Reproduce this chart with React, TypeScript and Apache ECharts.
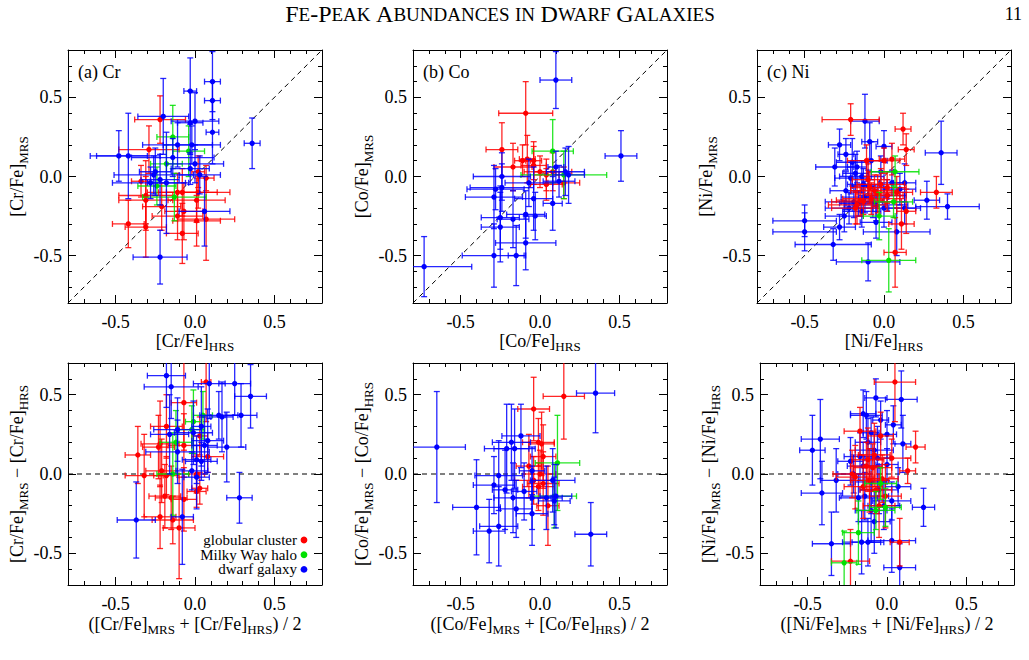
import React, { useEffect, useRef } from "react";
import * as echarts from "echarts";

const FONT = "Liberation Serif, 'Times New Roman', serif";
const RED = "#ff0000";
const GREEN = "#00e000";
const BLUE = "#0000ff";

// Each point: [x, y, xError, yError]
// ---- (a) Cr, top: [Cr/Fe]HRS vs [Cr/Fe]MRS
const crTopRed = [
  [-0.22, 0.36, 0.16, 0.15], [-0.29, 0.17, 0.19, 0.15], [-0.42, -0.30, 0.10, 0.15],
  [-0.31, -0.32, 0.13, 0.19], [-0.31, -0.12, 0.17, 0.22], [-0.31, -0.15, 0.17, 0.15],
  [-0.21, -0.19, 0.12, 0.15], [-0.11, -0.25, 0.16, 0.15], [-0.08, -0.36, 0.10, 0.19],
  [-0.07, -0.22, 0.12, 0.18], [-0.08, -0.10, 0.22, 0.15], [0.01, -0.15, 0.18, 0.14],
  [0.01, -0.28, 0.15, 0.16], [0.07, -0.27, 0.18, 0.26], [0.02, -0.10, 0.20, 0.10],
  [-0.34, -0.03, 0.06, 0.10], [0.07, -0.01, 0.05, 0.08], [0.02, 0.03, 0.04, 0.10],
  [-0.11, -0.10, 0.12, 0.12],
];
const crTopGreen = [
  [-0.14, 0.25, 0.10, 0.20], [-0.13, -0.13, 0.20, 0.15], [-0.18, 0.08, 0.10, 0.12],
  [-0.24, -0.06, 0.12, 0.12], [-0.04, 0.16, 0.10, 0.16],
];
const crTopBlue = [
  [0.11, 0.60, 0.05, 0.19], [0.11, 0.48, 0.05, 0.12], [0.11, 0.28, 0.04, 0.20],
  [-0.03, 0.54, 0.04, 0.21], [0.36, 0.21, 0.05, 0.16], [-0.20, 0.38, 0.16, 0.24],
  [0.00, 0.35, 0.15, 0.18], [-0.03, 0.34, 0.08, 0.20], [-0.48, 0.13, 0.18, 0.16],
  [-0.42, 0.13, 0.20, 0.27], [-0.11, 0.20, 0.22, 0.14], [-0.02, 0.20, 0.18, 0.12],
  [-0.14, 0.12, 0.26, 0.12], [0.00, 0.08, 0.18, 0.12], [-0.03, 0.05, 0.12, 0.10],
  [-0.25, 0.03, 0.10, 0.15], [-0.26, 0.01, 0.25, 0.12], [-0.22, -0.02, 0.12, 0.16],
  [-0.28, -0.04, 0.24, 0.10], [-0.18, -0.04, 0.12, 0.32], [0.03, 0.01, 0.13, 0.12],
  [0.06, -0.22, 0.16, 0.22], [-0.22, -0.51, 0.17, 0.17],
];

// ---- (b) Co, top
const coTopRed = [
  [-0.09, 0.40, 0.17, 0.20], [-0.24, 0.17, 0.10, 0.17], [-0.17, 0.06, 0.12, 0.15],
  [-0.11, 0.10, 0.05, 0.10], [-0.08, 0.11, 0.05, 0.15], [-0.04, 0.10, 0.05, 0.12],
  [-0.04, 0.07, 0.08, 0.12], [0.04, 0.01, 0.08, 0.10], [0.04, -0.05, 0.10, 0.10],
  [0.15, -0.04, 0.10, 0.10], [0.08, 0.03, 0.12, 0.12], [0.00, 0.03, 0.10, 0.10],
];
const coTopGreen = [
  [0.08, 0.16, 0.13, 0.20], [0.15, 0.01, 0.27, 0.15],
];
const coTopBlue = [
  [0.10, 0.61, 0.10, 0.18], [0.51, 0.13, 0.10, 0.16], [-0.73, -0.57, 0.30, 0.19],
  [-0.24, 0.00, 0.18, 0.15], [-0.28, -0.08, 0.18, 0.13], [-0.29, -0.13, 0.18, 0.20],
  [-0.24, -0.07, 0.20, 0.15], [-0.25, -0.26, 0.12, 0.20], [-0.25, -0.32, 0.12, 0.22],
  [-0.17, -0.27, 0.10, 0.18], [-0.09, -0.24, 0.12, 0.15], [-0.03, -0.25, 0.07, 0.15],
  [-0.04, -0.14, 0.12, 0.20], [-0.07, -0.04, 0.15, 0.15], [-0.09, -0.42, 0.19, 0.17],
  [-0.29, -0.50, 0.20, 0.20], [-0.15, -0.50, 0.05, 0.19], [0.08, -0.17, 0.06, 0.17],
  [0.12, -0.03, 0.10, 0.10], [0.10, 0.06, 0.05, 0.10], [0.16, 0.03, 0.12, 0.15],
  [0.18, 0.01, 0.10, 0.18],
];

// ---- (c) Ni, top
const niTopRed = [
  [-0.21, 0.36, 0.18, 0.10], [0.12, 0.30, 0.05, 0.10], [0.14, 0.17, 0.05, 0.10],
  [0.05, 0.11, 0.08, 0.10], [0.33, -0.10, 0.10, 0.10], [0.07, -0.48, 0.07, 0.22],
  [0.11, -0.30, 0.08, 0.16], [0.14, -0.22, 0.06, 0.14], [-0.17, -0.18, 0.18, 0.12],
  [-0.15, -0.15, 0.15, 0.10], [-0.09, -0.07, 0.12, 0.10], [-0.04, -0.11, 0.14, 0.12],
  [-0.02, -0.05, 0.15, 0.10], [-0.08, -0.14, 0.18, 0.10], [0.02, -0.12, 0.10, 0.10],
  [-0.11, 0.10, 0.12, 0.10], [0.00, 0.10, 0.10, 0.08], [-0.13, -0.16, 0.20, 0.08],
  [-0.06, -0.09, 0.15, 0.10], [0.02, -0.07, 0.12, 0.10], [-0.18, -0.20, 0.15, 0.10],
  [0.08, -0.10, 0.10, 0.10], [-0.10, -0.02, 0.10, 0.10],
];
const niTopGreen = [
  [0.03, -0.53, 0.17, 0.20], [-0.03, -0.25, 0.10, 0.15], [0.07, 0.03, 0.15, 0.10],
  [0.06, -0.16, 0.12, 0.10],
];
const niTopBlue = [
  [-0.50, -0.28, 0.20, 0.10], [-0.50, -0.35, 0.20, 0.12], [-0.32, -0.43, 0.24, 0.10],
  [-0.10, -0.54, 0.20, 0.12], [0.36, 0.15, 0.10, 0.20], [0.40, -0.19, 0.20, 0.08],
  [0.27, -0.15, 0.08, 0.12], [-0.28, 0.20, 0.07, 0.10], [-0.12, 0.35, 0.09, 0.17],
  [-0.09, 0.22, 0.05, 0.12], [-0.31, 0.06, 0.12, 0.12], [-0.24, 0.14, 0.05, 0.10],
  [0.00, 0.19, 0.05, 0.10], [-0.21, -0.01, 0.10, 0.10], [-0.14, 0.00, 0.14, 0.10],
  [-0.24, -0.09, 0.10, 0.12], [-0.19, -0.16, 0.18, 0.10], [-0.28, -0.32, 0.10, 0.08],
  [-0.25, -0.25, 0.12, 0.10], [-0.14, -0.22, 0.12, 0.10], [-0.05, -0.29, 0.10, 0.10],
  [0.08, -0.35, 0.21, 0.15], [0.13, -0.04, 0.07, 0.12], [0.13, -0.20, 0.10, 0.10],
  [0.00, -0.20, 0.20, 0.12], [-0.07, -0.16, 0.20, 0.10], [-0.17, 0.06, 0.06, 0.10],
  [-0.02, 0.03, 0.08, 0.10], [0.05, -0.04, 0.08, 0.08], [-0.10, -0.06, 0.10, 0.10],
  [-0.16, -0.17, 0.12, 0.08], [-0.12, -0.13, 0.15, 0.10], [-0.05, -0.18, 0.20, 0.10],
  [-0.18, 0.02, 0.08, 0.12], [-0.08, 0.10, 0.10, 0.12], [-0.20, 0.09, 0.10, 0.15],
  [-0.13, -0.05, 0.10, 0.10], [0.02, -0.12, 0.12, 0.10], [-0.22, -0.20, 0.15, 0.10],
  [0.10, -0.08, 0.10, 0.10],
];

// ---- (a) Cr, bottom: mean vs difference
const crBotRed = [
  [-0.07, 0.45, 0.08, 0.30], [0.07, 0.58, 0.03, 0.25], [-0.18, 0.30, 0.10, 0.20],
  [-0.23, 0.17, 0.10, 0.20], [-0.36, 0.12, 0.08, 0.18], [-0.32, -0.01, 0.12, 0.26],
  [-0.21, 0.02, 0.10, 0.20], [-0.22, 0.19, 0.12, 0.27], [-0.19, -0.14, 0.10, 0.20],
  [-0.15, -0.15, 0.10, 0.20], [-0.14, -0.29, 0.13, 0.15], [-0.10, -0.34, 0.10, 0.32],
  [-0.22, -0.27, 0.10, 0.20], [-0.07, -0.16, 0.08, 0.20], [0.01, -0.11, 0.06, 0.10],
  [0.03, -0.09, 0.05, 0.10], [0.01, 0.00, 0.05, 0.12], [0.08, 0.11, 0.10, 0.10],
  [0.03, 0.24, 0.05, 0.12], [-0.18, -0.01, 0.08, 0.12], [-0.07, 0.18, 0.10, 0.20],
];
const crBotGreen = [
  [-0.01, 0.33, 0.05, 0.20], [-0.14, 0.00, 0.10, 0.26], [-0.12, 0.20, 0.10, 0.20],
  [0.05, 0.37, 0.06, 0.15], [-0.02, 0.28, 0.08, 0.15],
];
const crBotBlue = [
  [-0.18, 0.62, 0.12, 0.20], [-0.15, 0.55, 0.17, 0.20], [0.09, 0.57, 0.10, 0.22],
  [0.25, 0.57, 0.10, 0.20], [0.35, 0.49, 0.10, 0.20], [0.29, 0.37, 0.10, 0.20],
  [0.17, 0.36, 0.07, 0.22], [0.15, 0.37, 0.12, 0.15], [0.20, 0.17, 0.12, 0.22],
  [0.08, 0.21, 0.10, 0.20], [0.06, 0.18, 0.08, 0.18], [0.04, 0.30, 0.06, 0.25],
  [-0.01, 0.26, 0.12, 0.20], [-0.11, 0.28, 0.15, 0.20], [-0.16, 0.25, 0.12, 0.25],
  [-0.11, 0.14, 0.20, 0.20], [0.01, 0.09, 0.09, 0.15], [0.04, 0.08, 0.10, 0.12],
  [-0.02, 0.02, 0.10, 0.12], [0.01, -0.02, 0.08, 0.20], [0.28, -0.15, 0.08, 0.16],
  [-0.37, -0.29, 0.12, 0.24], [-0.08, -0.27, 0.07, 0.30],
];

// ---- (b) Co, bottom
const coBotRed = [
  [0.15, 0.49, 0.13, 0.27], [-0.04, 0.41, 0.10, 0.20], [-0.01, 0.20, 0.10, 0.15],
  [0.01, 0.19, 0.08, 0.20], [0.02, 0.11, 0.08, 0.20], [-0.07, 0.05, 0.08, 0.20],
  [-0.01, -0.08, 0.10, 0.15], [0.02, -0.06, 0.10, 0.20], [0.05, -0.20, 0.07, 0.25],
  [0.00, 0.00, 0.10, 0.15], [-0.04, -0.04, 0.12, 0.15],
];
const coBotGreen = [
  [0.11, 0.07, 0.14, 0.30], [0.09, -0.14, 0.14, 0.20],
];
const coBotBlue = [
  [-0.65, 0.17, 0.18, 0.35], [0.35, 0.51, 0.12, 0.25], [0.32, -0.38, 0.10, 0.20],
  [-0.40, -0.21, 0.15, 0.30], [-0.32, -0.36, 0.10, 0.20], [-0.26, -0.33, 0.12, 0.25],
  [-0.29, -0.07, 0.13, 0.18], [-0.26, -0.01, 0.15, 0.22], [-0.22, -0.10, 0.08, 0.25],
  [-0.21, 0.16, 0.14, 0.28], [-0.16, 0.16, 0.13, 0.25], [-0.18, 0.20, 0.12, 0.24],
  [-0.12, 0.24, 0.12, 0.20], [-0.17, -0.15, 0.12, 0.22], [-0.15, -0.22, 0.10, 0.18],
  [-0.10, -0.11, 0.08, 0.18], [-0.05, -0.25, 0.10, 0.20], [-0.05, 0.02, 0.08, 0.15],
  [-0.05, -0.15, 0.12, 0.20], [0.04, -0.15, 0.10, 0.20], [0.08, -0.04, 0.14, 0.20],
  [0.09, -0.17, 0.10, 0.15], [0.10, -0.14, 0.10, 0.20],
];

// ---- (c) Ni, bottom
const niBotRed = [
  [0.05, 0.58, 0.13, 0.25], [0.18, 0.17, 0.06, 0.10], [0.13, 0.02, 0.05, 0.08],
  [0.08, -0.43, 0.06, 0.15], [-0.23, -0.55, 0.12, 0.20], [-0.17, 0.27, 0.10, 0.15],
  [-0.04, 0.24, 0.08, 0.15], [-0.22, 0.00, 0.12, 0.15], [-0.20, -0.02, 0.12, 0.20],
  [-0.11, -0.04, 0.12, 0.20], [-0.09, 0.04, 0.12, 0.15], [-0.07, -0.10, 0.10, 0.15],
  [-0.03, -0.03, 0.10, 0.15], [0.03, 0.10, 0.12, 0.12], [-0.12, 0.09, 0.10, 0.20],
  [-0.01, -0.14, 0.10, 0.20], [-0.15, -0.08, 0.12, 0.20], [-0.08, 0.12, 0.10, 0.20],
  [-0.05, -0.20, 0.10, 0.20], [-0.13, 0.05, 0.10, 0.15],
];
const niBotGreen = [
  [-0.27, -0.56, 0.08, 0.20], [-0.18, -0.37, 0.10, 0.20], [-0.07, -0.23, 0.12, 0.12],
  [-0.01, -0.21, 0.10, 0.12], [-0.04, -0.06, 0.10, 0.10],
];
const niBotBlue = [
  [-0.47, 0.15, 0.08, 0.22], [-0.42, 0.22, 0.12, 0.25], [-0.41, -0.12, 0.13, 0.20],
  [-0.35, -0.44, 0.12, 0.20], [-0.32, -0.04, 0.10, 0.20], [0.08, -0.59, 0.10, 0.15],
  [0.23, -0.21, 0.07, 0.12], [0.03, -0.42, 0.15, 0.20], [-0.16, -0.43, 0.12, 0.20],
  [-0.12, -0.43, 0.10, 0.15], [-0.15, 0.38, 0.08, 0.15], [-0.13, 0.37, 0.10, 0.15],
  [-0.07, 0.48, 0.07, 0.12], [0.09, 0.47, 0.10, 0.18], [0.10, 0.19, 0.05, 0.18],
  [0.04, 0.31, 0.05, 0.12], [-0.04, 0.34, 0.05, 0.12], [-0.10, 0.26, 0.05, 0.10],
  [-0.23, 0.08, 0.08, 0.15], [-0.21, 0.00, 0.10, 0.12], [-0.17, 0.11, 0.10, 0.15],
  [-0.08, 0.15, 0.12, 0.10], [0.00, 0.06, 0.07, 0.10], [0.07, -0.08, 0.08, 0.12],
  [0.03, -0.17, 0.12, 0.12], [-0.10, -0.23, 0.10, 0.20], [-0.14, -0.14, 0.15, 0.15],
  [-0.05, -0.10, 0.12, 0.15], [-0.15, 0.05, 0.10, 0.15], [-0.10, -0.05, 0.10, 0.20],
  [-0.06, 0.10, 0.08, 0.20], [-0.02, -0.20, 0.10, 0.15], [-0.18, -0.15, 0.12, 0.15],
  [-0.12, 0.20, 0.08, 0.15], [0.00, 0.25, 0.06, 0.15], [-0.08, -0.30, 0.10, 0.20],
];

// reference lines
const diagonalLine = [[-0.8, -0.8], [0.8, 0.8]];
const zeroLine = [[-0.8, 0], [0.8, 0]];

const majorTicks = [-0.5, 0, 0.5];
const legendNames = ["globular cluster", "Milky Way halo", "dwarf galaxy"];
const legendColors = [RED, GREEN, BLUE];
const panelLabels = ["(a) Cr", "(b) Co", "(c) Ni"];
const elements = ["Cr", "Co", "Ni"];

const GRIDS = [
  { left: 68, top: 50, width: 254, height: 253 },
  { left: 413, top: 50, width: 254, height: 253 },
  { left: 757, top: 50, width: 254, height: 253 },
  { left: 68, top: 363, width: 254, height: 222 },
  { left: 413, top: 363, width: 254, height: 222 },
  { left: 760, top: 363, width: 254, height: 222 },
];

const fmt = (v: number) => (Math.abs(v) < 1e-9 ? "0.0" : v.toFixed(1));

const richSub = {
  s: { fontSize: 13, fontFamily: FONT, color: "#000", verticalAlign: "bottom", padding: [12, 0, 0, 0] },
};

function axisSet(g: number, dim: "x" | "y", lo: number, hi: number, name: string, nameGap: number) {
  const common: any = { type: "value", gridIndex: g, min: lo, max: hi, splitLine: { show: false } };
  const lineStyle = { color: "#000", width: 1 };
  const pos = dim === "x" ? ["bottom", "top"] : ["left", "right"];
  const axisLine = { show: true, onZero: false, lineStyle };
  const noLine = { show: false, onZero: false };
  const major = { show: true, inside: true, length: 8, customValues: majorTicks, lineStyle };
  const minor = { show: true, inside: true, length: 4, lineStyle };
  return [
    {
      ...common, position: pos[0], axisLine, axisTick: major,
      axisLabel: {
        show: true, customValues: majorTicks, formatter: fmt, color: "#000",
        fontFamily: FONT, fontSize: 18, margin: dim === "x" ? 10 : 6,
      },
      name, nameLocation: "middle", nameGap,
      nameTextStyle: { fontFamily: FONT, fontSize: 18, color: "#000", rich: richSub },
    },
    { ...common, position: pos[0], interval: 0.1, axisLine: noLine, axisTick: minor, axisLabel: { show: false } },
    { ...common, position: pos[1], axisLine, axisTick: major, axisLabel: { show: false } },
    { ...common, position: pos[1], interval: 0.1, axisLine: noLine, axisTick: minor, axisLabel: { show: false } },
  ];
}

function errorSeries(name: string, color: string, data: number[][], g: number) {
  return {
    type: "custom",
    name,
    xAxisIndex: g * 4,
    yAxisIndex: g * 4,
    clip: true,
    z: 3,
    data,
    renderItem: (_p: any, api: any) => {
      const x = api.value(0), y = api.value(1), ex = api.value(2), ey = api.value(3);
      const c = api.coord([x, y]);
      const l = api.coord([x - ex, y]);
      const r = api.coord([x + ex, y]);
      const t = api.coord([x, y + ey]);
      const b = api.coord([x, y - ey]);
      const cap = 3;
      const st = { stroke: color, lineWidth: 1.3, opacity: 0.85 };
      return {
        type: "group",
        children: [
          { type: "line", shape: { x1: l[0], y1: c[1], x2: r[0], y2: c[1] }, style: st },
          { type: "line", shape: { x1: l[0], y1: c[1] - cap, x2: l[0], y2: c[1] + cap }, style: st },
          { type: "line", shape: { x1: r[0], y1: c[1] - cap, x2: r[0], y2: c[1] + cap }, style: st },
          { type: "line", shape: { x1: c[0], y1: t[1], x2: c[0], y2: b[1] }, style: st },
          { type: "line", shape: { x1: c[0] - cap, y1: t[1], x2: c[0] + cap, y2: t[1] }, style: st },
          { type: "line", shape: { x1: c[0] - cap, y1: b[1], x2: c[0] + cap, y2: b[1] }, style: st },
          { type: "circle", shape: { cx: c[0], cy: c[1], r: 2.7 }, style: { fill: color } },
        ],
      };
    },
  };
}

function refLine(data: number[][], g: number) {
  return {
    type: "line",
    xAxisIndex: g * 4,
    yAxisIndex: g * 4,
    data,
    symbol: "none",
    silent: true,
    z: 1,
    lineStyle: { color: "#000", width: 1, type: [5, 4] },
  };
}

export default function App() {
  const ref = useRef<HTMLDivElement>(null);
  useEffect(() => {
    if (!ref.current) return;
    const chart = echarts.init(ref.current, undefined, { renderer: "svg" });

    const xAxes: any[] = [];
    const yAxes: any[] = [];
    for (let g = 0; g < 6; g++) {
      const el = elements[g % 3];
      const top = g < 3;
      const xName = top ? `[${el}/Fe]{s|HRS}` : `([${el}/Fe]{s|MRS} + [${el}/Fe]{s|HRS}) / 2`;
      const yName = top ? `[${el}/Fe]{s|MRS}` : `[${el}/Fe]{s|MRS} \u2212 [${el}/Fe]{s|HRS}`;
      const yr = top ? 0.8 : 0.7;
      xAxes.push(...axisSet(g, "x", -0.8, 0.8, xName, top ? 24 : 26));
      yAxes.push(...axisSet(g, "y", -yr, yr, yName, 36));
    }

    const groups = [
      [crTopRed, crTopGreen, crTopBlue],
      [coTopRed, coTopGreen, coTopBlue],
      [niTopRed, niTopGreen, niTopBlue],
      [crBotRed, crBotGreen, crBotBlue],
      [coBotRed, coBotGreen, coBotBlue],
      [niBotRed, niBotGreen, niBotBlue],
    ];
    const series: any[] = [];
    for (let g = 0; g < 6; g++) {
      series.push(refLine(g < 3 ? diagonalLine : zeroLine, g));
      const [r, gr, b] = groups[g];
      if (g % 3 === 2) {
        series.push(errorSeries(legendNames[2], BLUE, b, g));
        series.push(errorSeries(legendNames[0], RED, r, g));
        series.push(errorSeries(legendNames[1], GREEN, gr, g));
      } else {
        series.push(errorSeries(legendNames[0], RED, r, g));
        series.push(errorSeries(legendNames[1], GREEN, gr, g));
        series.push(errorSeries(legendNames[2], BLUE, b, g));
      }
    }

    const graphic: any[] = [
      {
        type: "text", x: 500, y: 14,
        style: {
          text: "{b|F}{s|E}{b|-P}{s|EAK} {b|A}{s|BUNDANCES} {s|IN} {b|D}{s|WARF} {b|G}{s|ALAXIES}",
          align: "center", verticalAlign: "middle",
          rich: {
            b: { fontFamily: FONT, fontSize: 24, fill: "#000", color: "#000" },
            s: { fontFamily: FONT, fontSize: 19, fill: "#000", color: "#000" },
          },
          fill: "#000", font: `22px ${FONT}`,
        },
      },
      {
        type: "text", x: 1022, y: 14,
        style: { text: "11", align: "right", verticalAlign: "middle", fill: "#000", font: `18px ${FONT}` },
      },
    ];
    for (let i = 0; i < 3; i++) {
      graphic.push({
        type: "text", x: GRIDS[i].left + 10, y: GRIDS[i].top + 22, z: 10,
        style: { text: panelLabels[i], align: "left", verticalAlign: "middle", fill: "#000", font: `18px ${FONT}` },
      });
    }
    for (let i = 0; i < 3; i++) {
      graphic.push({
        type: "text", x: 297, y: 540 + i * 14.7, z: 10,
        style: { text: legendNames[i], align: "right", verticalAlign: "middle", fill: "#000", font: `15px ${FONT}` },
      });
      graphic.push({
        type: "circle", z: 10,
        shape: { cx: 304, cy: 540 + i * 14.7, r: 3.4 },
        style: { fill: legendColors[i] },
      });
    }

    chart.setOption({
      animation: false,
      backgroundColor: "#fff",
      grid: GRIDS.map((g) => ({ ...g, containLabel: false, outerBoundsMode: "none" })),
      xAxis: xAxes,
      yAxis: yAxes,
      series,
      graphic,
    });
    return () => chart.dispose();
  }, []);
  return (
    <div
      ref={ref}
      style={{ position: "absolute", left: 0, top: 0, width: 1029, height: 660, background: "#fff" }}
    />
  );
}
